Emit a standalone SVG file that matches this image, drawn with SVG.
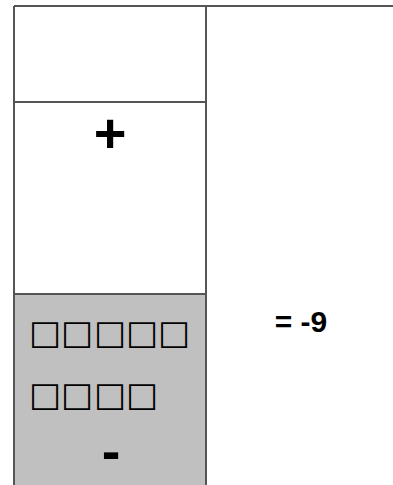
<svg xmlns="http://www.w3.org/2000/svg" width="393" height="485" viewBox="0 0 393 485">
<style>
.ln{stroke:#555;stroke-width:2;fill:none}
.sym{font-family:"Liberation Sans",Arial,sans-serif;font-weight:bold;fill:#000;text-anchor:middle}
.sq{font-family:"DejaVu Sans",sans-serif;font-size:34px;fill:#000}
</style>
<rect x="14" y="294" width="192" height="191" fill="#c0c0c0"/>
<g id="frame">
<line class="ln" x1="14" y1="6" x2="393" y2="6"/>
<line class="ln" x1="14" y1="6" x2="14" y2="485"/>
<line class="ln" x1="206" y1="6" x2="206" y2="485"/>
<line class="ln" x1="14" y1="102" x2="206" y2="102" stroke="#111"/>
<line class="ln" x1="14" y1="294" x2="206" y2="294" stroke="#222"/>
</g>
<g id="plus"><text class="sym" x="110" y="152" font-size="56">+</text></g>
<g id="squares">
<text class="sq" x="29 61 94 126 158" y="344">□□□□□</text>
<text class="sq" x="29 61 94 126" y="406">□□□□</text>
</g>
<g id="minus"><text class="sym" x="111" y="470" font-size="56">-</text></g>
<g id="result"><text class="sym" x="301" y="332" font-size="30">= -9</text></g>
</svg>
